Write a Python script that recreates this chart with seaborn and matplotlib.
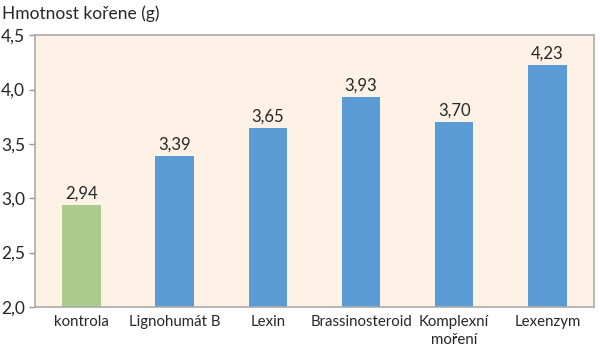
import numpy as np
import pandas as pd
import seaborn as sns
import matplotlib.pyplot as plt

categories = ['kontrola', 'Lignohumát B', 'Lexin', 'Brassinosteroid', 'Komplexní\nmoření', 'Lexenzym']
values = [2.94, 3.39, 3.65, 3.93, 3.70, 4.23]
bar_colors = ['#A9CB8C', '#5B9BD5', '#5B9BD5', '#5B9BD5', '#5B9BD5', '#5B9BD5']
yticks = [2.0, 2.5, 3.0, 3.5, 4.0, 4.5]

df = pd.DataFrame({'kategorie': categories, 'hodnota': values})

sns.set_style('white')
plt.rcParams['font.family'] = ['Lato', 'DejaVu Sans']

fig, ax = plt.subplots(figsize=(6, 3.52), dpi=100)
fig.subplots_adjust(left=0.058, right=0.99, top=0.9, bottom=0.128)
sns.barplot(x='kategorie', y='hodnota', data=df, palette=bar_colors, hue='kategorie',
            legend=False, width=0.41, ax=ax, saturation=1, linewidth=0)
ax.set_facecolor('#FDF2E5')
ax.set_ylim(2.0, 4.5)
ax.set_xlim(-0.5, len(categories) - 0.5)
ax.set_yticks(yticks)
ax.set_yticklabels([f'{t:.1f}'.replace('.', ',') for t in yticks], fontsize=12.5)
ax.set_xticks(range(len(categories)))
ax.set_xticklabels(categories, fontsize=10.8, linespacing=1.35)
ax.set_xticks(np.arange(-0.5, len(categories)), minor=True)
ax.tick_params(axis='x', which='major', length=0, pad=6)
ax.tick_params(axis='x', which='minor', length=4, color='#999999', width=1)
ax.tick_params(axis='y', length=4, color='#999999', width=1, left=True, pad=3)
ax.set_xlabel('')
ax.set_ylabel('')
for s in ax.spines.values():
    s.set_color('#AAAAAA')
    s.set_linewidth(1.2)
for i, v in enumerate(values):
    ax.text(i, v + 0.03, f'{v:.2f}'.replace('.', ','), ha='center', va='bottom', fontsize=12)
fig.text(0.003, 0.985, 'Hmotnost kořene (g)', fontsize=12.5, ha='left', va='top')
fig.savefig('out.png')
